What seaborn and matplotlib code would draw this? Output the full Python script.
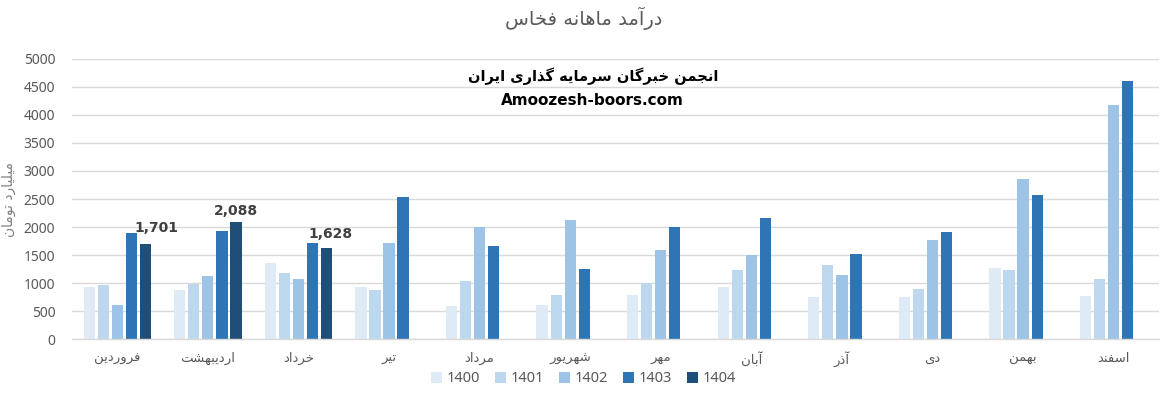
import numpy as np
import pandas as pd
import matplotlib
matplotlib.use("Agg")
import matplotlib.pyplot as plt
import seaborn as sns

# ---------------- data ----------------
months = ["فروردین", "اردیبهشت", "خرداد", "تیر", "مرداد", "شهریور",
          "مهر", "آبان", "آذر", "دی", "بهمن", "اسفند"]
years = ["1400", "1401", "1402", "1403", "1404"]
v1400 = [922, 881, 1363, 922, 583, 601, 780, 922, 756, 756, 1274, 774]
v1401 = [958, 976, 1185, 869, 1030, 780, 1006, 1226, 1327, 899, 1238, 1077]
v1402 = [601, 1119, 1065, 1720, 1994, 2119, 1583, 1494, 1149, 1774, 2863, 4185]
v1403 = [1899, 1923, 1720, 2542, 1655, 1244, 2006, 2155, 1524, 1917, 2577, 4613]
v1404 = [1701, 2088, 1628, np.nan, np.nan, np.nan, np.nan, np.nan, np.nan,
         np.nan, np.nan, np.nan]
title_text = "درآمد ماهانه فخاس"
ylabel_text = "میلیارد تومان"
brand_fa = "انجمن خبرگان سرمایه گذاری ایران"
brand_en = "Amoozesh-boors.com"

colors = ["#DEEBF7", "#BDD7EE", "#9DC3E6", "#2E75B6", "#1F4E79"]

# ------------- simple Persian shaping (contextual forms + RTL order) -------------
FORMS = {
    "ا": ("\uFE8D", "\uFE8E", None, None),
    "آ": ("\uFE81", "\uFE82", None, None),
    "د": ("\uFEA9", "\uFEAA", None, None),
    "ذ": ("\uFEAB", "\uFEAC", None, None),
    "ر": ("\uFEAD", "\uFEAE", None, None),
    "ز": ("\uFEAF", "\uFEB0", None, None),
    "و": ("\uFEED", "\uFEEE", None, None),
    "ب": ("\uFE8F", "\uFE90", "\uFE91", "\uFE92"),
    "ت": ("\uFE95", "\uFE96", "\uFE97", "\uFE98"),
    "ج": ("\uFE9D", "\uFE9E", "\uFE9F", "\uFEA0"),
    "خ": ("\uFEA5", "\uFEA6", "\uFEA7", "\uFEA8"),
    "س": ("\uFEB1", "\uFEB2", "\uFEB3", "\uFEB4"),
    "ش": ("\uFEB5", "\uFEB6", "\uFEB7", "\uFEB8"),
    "ف": ("\uFED1", "\uFED2", "\uFED3", "\uFED4"),
    "ل": ("\uFEDD", "\uFEDE", "\uFEDF", "\uFEE0"),
    "م": ("\uFEE1", "\uFEE2", "\uFEE3", "\uFEE4"),
    "ن": ("\uFEE5", "\uFEE6", "\uFEE7", "\uFEE8"),
    "ه": ("\uFEE9", "\uFEEA", "\uFEEB", "\uFEEC"),
    "ی": ("\uFBFC", "\uFBFD", "\uFBFE", "\uFBFF"),
    "گ": ("\uFB92", "\uFB93", "\uFB94", "\uFB95"),
    "ک": ("\uFB8E", "\uFB8F", "\uFB90", "\uFB91"),
}


def shape(s):
    out = []
    for i, c in enumerate(s):
        if c not in FORMS:
            out.append(c)
            continue
        iso, fin, ini, med = FORMS[c]
        prev = s[i - 1] if i > 0 else None
        nxt = s[i + 1] if i + 1 < len(s) else None
        jp = prev in FORMS and FORMS[prev][2] is not None
        jn = ini is not None and nxt in FORMS
        if jp and jn:
            out.append(med)
        elif jp:
            out.append(fin)
        elif jn:
            out.append(ini)
        else:
            out.append(iso)
    return "".join(out)[::-1]


# ---------------- frame ----------------
df = pd.DataFrame({
    "month": np.repeat(months, len(years)),
    "year": years * len(months),
    "value": np.ravel(np.column_stack([v1400, v1401, v1402, v1403, v1404])),
})

sns.set_theme(style="white")
plt.rcParams["font.family"] = ["Noto Sans", "DejaVu Sans"]

fig = plt.figure(figsize=(11.67, 3.98), dpi=100)
ax = fig.add_axes([0.0617, 0.1482, 0.9314, 0.7036])

sns.barplot(data=df, x="month", y="value", hue="year", order=months,
            hue_order=years, palette=dict(zip(years, colors)),
            width=0.775, gap=0.2, ax=ax, legend=True, saturation=1,
            linewidth=0, edgecolor="none")

ax.set_ylim(0, 5000)
ax.set_xlim(-0.5, len(months) - 0.5)
ax.set_yticks(np.arange(0, 5001, 500))
ax.yaxis.grid(True, color="#D9D9D9", linewidth=1)
ax.set_axisbelow(True)
for sp in ["top", "right", "left"]:
    ax.spines[sp].set_visible(False)
ax.spines["bottom"].set_color("#D9D9D9")
ax.spines["bottom"].set_linewidth(1)
ax.tick_params(axis="both", length=0, colors="#595959", labelsize=10)
ax.tick_params(axis="y", pad=12)
ax.tick_params(axis="x", pad=9)
ax.set_xticks(range(len(months)))
ax.set_xticklabels([shape(m) for m in months], color="#595959", fontsize=9.5,
                   family=["DejaVu Sans"])
ax.set_xlabel("")
ax.set_ylabel(shape(ylabel_text), color="#7F7F7F", fontsize=10,
              family=["DejaVu Sans"], labelpad=6)

# data labels for 1404
cont = ax.containers[4]
labels = ax.bar_label(cont, fmt="{:,.0f}", padding=3, fontsize=10,
                      fontweight="bold", color="#404040",
                      family=["DejaVu Sans"])
label_dx = [8, 0, 2.5]
label_dy = [6.5, 3, 5]
for lab, dx, dy in zip(labels, label_dx, label_dy):
    lab.xyann = (dx, dy)

# legend
handles, lbls = ax.get_legend_handles_labels()
ax.legend(handles, lbls, loc="center", bbox_to_anchor=(0.5, 0.048),
          bbox_transform=fig.transFigure, ncol=5, frameon=False,
          fontsize=10.5, handlelength=0.75, handleheight=0.75,
          handletextpad=0.35, columnspacing=1.0, labelcolor="#595959")

# title and brand texts
fig.text(0.5, 0.955, shape(title_text), ha="center", va="center",
         fontsize=14, color="#595959", family=["DejaVu Sans"])
fig.text(0.508, 0.808, shape(brand_fa), ha="center", va="center",
         fontsize=10.5, fontweight="bold", color="black", family=["DejaVu Sans"])
fig.text(0.508, 0.748, brand_en, ha="center", va="center",
         fontsize=11, fontweight="bold", color="black", family=["DejaVu Sans"])

fig.savefig("out.png", dpi=100)
